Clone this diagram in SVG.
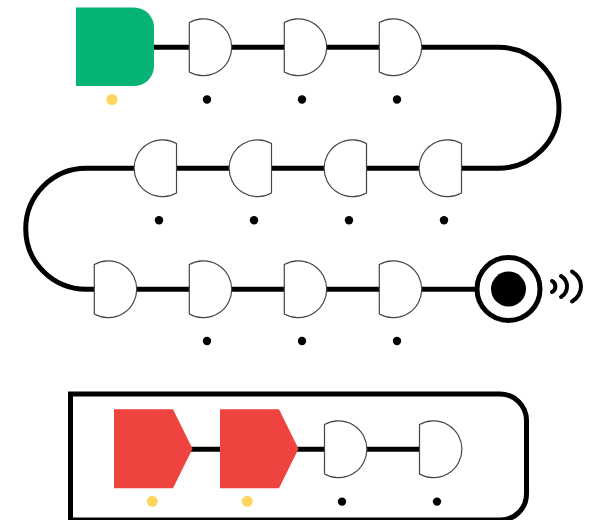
<svg xmlns="http://www.w3.org/2000/svg" width="589" height="520" viewBox="0 0 589 520">
<style>
.wire{fill:none;stroke:#000;stroke-width:5}
.gate{fill:#fff;stroke:#444;stroke-width:1.2}
.dot{fill:#000}
.warn{fill:#ffd45e}
.red{fill:#ef4340}
.wave{fill:none;stroke:#000;stroke-width:4;stroke-linecap:round}
</style>
<defs>
<path id="g" class="gate" d="M0,-24.7 A28.4 28.4 0 1 1 0,24.7 Z"/>
<path id="m" class="gate" d="M0,-24.7 A28.4 28.4 0 1 0 0,24.7 Z"/>
<polygon id="p" class="red" points="0,-39.5 59,-39.5 78.5,0 59,39.5 0,39.5"/>
</defs>
<g id="connectors">
<path class="wire" d="M150,47.3 H498.5 A60.5 60.5 0 0 1 498.5,168.3 H86.2 A60.5 60.5 0 0 0 86.2,289.3 H480"/>
<path class="wire" d="M190,449.3 H424"/>
</g>
<g id="start"><path fill="#06b575" d="M76,7.5 H134 A20 20 0 0 1 154,27.5 V66 A20 20 0 0 1 134,86 H76 Z"/><circle class="warn" cx="112" cy="99.5" r="5.5"/></g>
<g id="r1a"><use href="#g" x="189.3" y="47.3"/><circle class="dot" cx="207" cy="99.5" r="4.2"/></g>
<g id="r1b"><use href="#g" x="284.3" y="47.3"/><circle class="dot" cx="302" cy="99.5" r="4.2"/></g>
<g id="r1c"><use href="#g" x="379.3" y="47.3"/><circle class="dot" cx="397" cy="99.5" r="4.2"/></g>
<g id="r2a"><use href="#m" x="176.5" y="168.3"/><circle class="dot" cx="159" cy="220.3" r="4.2"/></g>
<g id="r2b"><use href="#m" x="271.5" y="168.3"/><circle class="dot" cx="254" cy="220.3" r="4.2"/></g>
<g id="r2c"><use href="#m" x="366.5" y="168.3"/><circle class="dot" cx="349" cy="220.3" r="4.2"/></g>
<g id="r2d"><use href="#m" x="461.5" y="168.3"/><circle class="dot" cx="444" cy="220.3" r="4.2"/></g>
<g id="r3a"><use href="#g" x="94.3" y="289.3"/></g>
<g id="r3b"><use href="#g" x="189.3" y="289.3"/><circle class="dot" cx="207" cy="341" r="4.2"/></g>
<g id="r3c"><use href="#g" x="284.3" y="289.3"/><circle class="dot" cx="302" cy="341" r="4.2"/></g>
<g id="r3d"><use href="#g" x="379.3" y="289.3"/><circle class="dot" cx="397" cy="341" r="4.2"/></g>
<g id="target">
<circle cx="508.5" cy="289" r="31.5" fill="#fff" stroke="#000" stroke-width="5"/>
<circle cx="508.5" cy="289" r="17.5" fill="#000"/>
<path class="wave" d="M552,281 C556.500,283.500 556.500,289.500 552,292"/>
<path class="wave" d="M561,276 C569,281 569,292 561,297"/>
<path class="wave" d="M572,271.500 C584,279 584,294 572,301.500"/>
</g>
<g id="box"><path fill="none" stroke="#000" stroke-width="5" d="M70.5,520 V394 H500 A26.5 26.5 0 0 1 526.5,420.5 V494 A26 26 0 0 1 500.5,520 Z"/></g>
<g id="b1"><use href="#p" x="114" y="448.8"/><circle class="warn" cx="152.3" cy="501.3" r="5.5"/></g>
<g id="b2"><use href="#p" x="220" y="448.8"/><circle class="warn" cx="247.3" cy="501.3" r="5.5"/></g>
<g id="b3"><use href="#g" x="324.5" y="449.3"/><circle class="dot" cx="342" cy="501.6" r="4.2"/></g>
<g id="b4"><use href="#g" x="419.5" y="449.3"/><circle class="dot" cx="437" cy="501.6" r="4.2"/></g>
</svg>
